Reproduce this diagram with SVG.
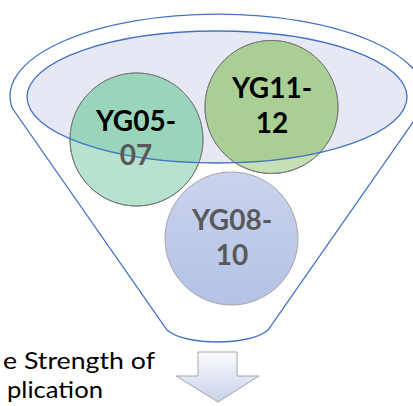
<svg xmlns="http://www.w3.org/2000/svg" width="413" height="406" viewBox="0 0 413 406">
<defs>
<style>
.funnel{fill:none;stroke:#4472c4;stroke-width:1.3}
.lbl{font-family:Lato,"Open Sans","DejaVu Sans",sans-serif;font-weight:700;font-size:28px;text-anchor:middle}
.cap{font-family:Lato,"Open Sans","DejaVu Sans",sans-serif;font-size:24px;fill:#000}
.ring{stroke:#7a7a7a;stroke-width:1}
</style>
<clipPath id="inner"><ellipse cx="217" cy="97" rx="190" ry="66"/></clipPath>
<linearGradient id="arrowG" x1="0" y1="0" x2="0" y2="1">
<stop offset="0" stop-color="#fbfcfe"/>
<stop offset="1" stop-color="#c6d1ea"/>
</linearGradient>
<linearGradient id="blueG" x1="0" y1="0" x2="0" y2="1">
<stop offset="0" stop-color="#cad3ec"/>
<stop offset="1" stop-color="#b3c2e6"/>
</linearGradient>
</defs>
<rect width="413" height="406" fill="#fff"/>
<g id="funnel">
<path class="funnel" d="M12.2,108 A207.5,82 0 1 1 422.8,108 L268,330 C250,346 185,346 167,330 Z"/>
<ellipse cx="217" cy="97" rx="190" ry="66" fill="#e6e8f4"/>
</g>
<g id="node-yg05-07">
<circle class="ring" cx="136.5" cy="139.5" r="66.5" fill="#b6e2ce"/>
<circle cx="136.5" cy="139.5" r="66" fill="#98d5bb" clip-path="url(#inner)"/>
<circle cx="136.5" cy="139.5" r="66.5" fill="none" stroke="#7a7a7a" stroke-width="1"/>
</g>
<g id="node-yg11-12">
<circle class="ring" cx="271.5" cy="107" r="66.5" fill="#c5e0b4"/>
<circle cx="271.5" cy="107" r="66" fill="#a9cf95" clip-path="url(#inner)"/>
<circle cx="271.5" cy="107" r="66.5" fill="none" stroke="#7a7a7a" stroke-width="1"/>
</g>
<g id="node-yg08-10">
<circle cx="231.5" cy="238.5" r="66.5" fill="url(#blueG)" stroke="#a6a6a6" stroke-width="1"/>
</g>
<g id="funnel-rim">
<ellipse cx="217" cy="97" rx="190" ry="66" class="funnel"/>
</g>
<g id="labels">
<text class="lbl" x="136" y="131" fill="#000">YG05-</text>
<text class="lbl" x="136" y="165" fill="#595959">07</text>
<text class="lbl" x="272" y="98" fill="#000">YG11-</text>
<text class="lbl" x="272" y="133" fill="#000">12</text>
<text class="lbl" x="232" y="230" fill="#595959">YG08-</text>
<text class="lbl" x="232" y="265" fill="#595959">10</text>
</g>
<g id="connectors">
<path d="M198,352 H237 V376 H259 L218,402 L176,376 H198 Z" fill="url(#arrowG)" stroke="#a6a6a6" stroke-width="1"/>
</g>
<g id="caption">
<text class="cap" x="3" y="369" textLength="152" lengthAdjust="spacingAndGlyphs">e Strength of</text>
<text class="cap" x="7" y="398" textLength="96" lengthAdjust="spacingAndGlyphs">plication</text>
</g>
</svg>
